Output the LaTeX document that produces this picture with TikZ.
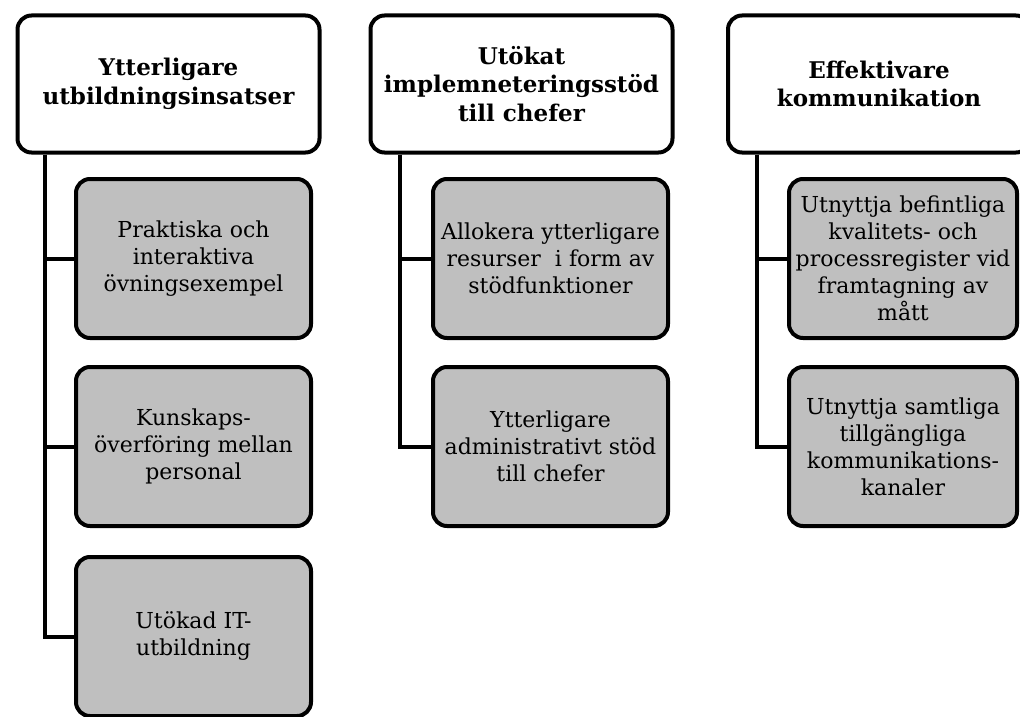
\documentclass[tikz,border=0pt]{standalone}
\usepackage{fontspec}
\setmainfont{DejaVu Serif}
\begin{document}
\begin{tikzpicture}[x=1pt,y=-1pt,
  head/.style={draw=black, line width=4pt, rounded corners=14pt, fill=white,
    minimum width=302pt, minimum height=137pt, align=center, inner sep=0pt,
    font=\fontsize{23}{28.5}\selectfont\bfseries},
  item/.style={draw=black, line width=4pt, rounded corners=14pt, fill=black!25,
    minimum width=235pt, minimum height=159pt, align=center, inner sep=0pt,
    font=\fontsize{22}{27}\selectfont},
  link/.style={draw=black, line width=4pt, line join=miter}]
\useasboundingbox (0,0) rectangle (1020,717);
\clip (0,0) rectangle (1020,717);

% trunk positions of the three branches
\coordinate (v1) at (45,0);
\coordinate (v2) at (400,0);
\coordinate (v3) at (757,0);

% column 1
\node[head] (h1) at (168.5,84) {Ytterligare\\utbildningsinsatser};
\draw[link] (h1.south -| v1) |- (193.5,258.5);
\draw[link] (h1.south -| v1) |- (193.5,446.5);
\draw[link] (h1.south -| v1) |- (193.5,636.5);
\node[item] (c11) at (193.5,258.5) {Praktiska och\\interaktiva\\övningsexempel};
\node[item] (c12) at (193.5,446.5) {Kunskaps-\\överföring mellan\\personal};
\node[item] (c13) at (193.5,636.5) {Utökad IT-\\utbildning};

% column 2
\node[head] (h2) at (521.5,84) {Utökat\\implemneteringsstöd\\till chefer};
\draw[link] (h2.south -| v2) |- (550.5,258.5);
\draw[link] (h2.south -| v2) |- (550.5,446.5);
\node[item] (c21) at (550.5,258.5) {Allokera ytterligare\\resurser\ \ i form av\\stödfunktioner};
\node[item] (c22) at (550.5,446.5) {Ytterligare\\administrativt stöd\\till chefer};

% column 3
\node[head] (h3) at (879,84) {Effektivare\\kommunikation};
\draw[link] (h3.south -| v3) |- (903,258.5);
\draw[link] (h3.south -| v3) |- (903,446.5);
\node[item, minimum width=228pt] (c31) at (903,258.5) {Utnyttja befintliga\\kvalitets- och\\processregister vid\\framtagning av\\mått};
\node[item, minimum width=228pt] (c32) at (903,446.5) {Utnyttja samtliga\\tillgängliga\\kommunikations-\\kanaler};
\end{tikzpicture}
\end{document}
